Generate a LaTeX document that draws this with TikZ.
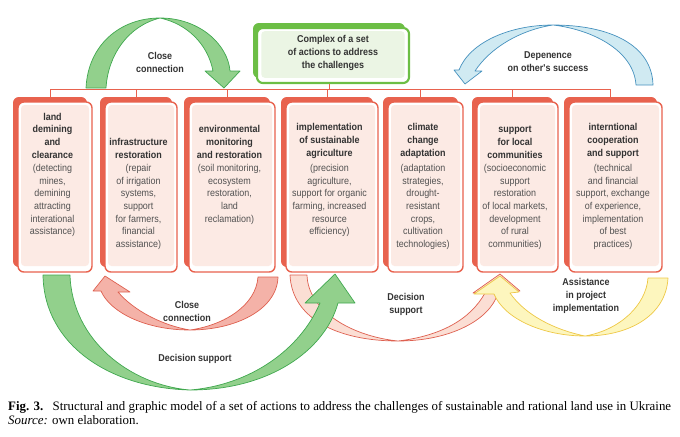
\documentclass[tikz,border=0pt]{standalone}
\usepackage{fontspec}
\setmainfont{Liberation Serif}
\newfontfamily\boxfont{Liberation Sans}[FakeStretch=0.9]
\definecolor{BoxClr}{rgb}{0.91,0.384,0.306}
\definecolor{PaleClr}{rgb}{0.988,0.918,0.894}
\definecolor{TopClr}{rgb}{0.424,0.745,0.27}
\definecolor{TopPale}{rgb}{0.92,0.96,0.894}
\definecolor{GreenFill}{rgb}{0.573,0.816,0.549}
\definecolor{GreenLine}{rgb}{0.25,0.66,0.31}
\definecolor{BlueFill}{rgb}{0.816,0.918,0.949}
\definecolor{BlueLine}{rgb}{0.275,0.569,0.745}
\definecolor{RedFill}{rgb}{0.957,0.698,0.659}
\definecolor{RedLine}{rgb}{0.87,0.376,0.314}
\definecolor{PinkFill}{rgb}{0.984,0.871,0.831}
\definecolor{YellowFill}{rgb}{0.992,0.965,0.745}
\definecolor{YellowLine}{rgb}{0.933,0.784,0.275}
\definecolor{TxtClr}{rgb}{0.2,0.2,0.2}
\tikzset{
  shadowbox/.style={rectangle,rounded corners=5pt,fill=#1,inner sep=0pt},
  frontbox/.style={rectangle,rounded corners=5pt,draw=#1,line width=1.2pt,fill=white,inner sep=0pt},
  innerbox/.style={rectangle,rounded corners=3pt,fill=#1,inner sep=0pt},
  ttl/.style={font=\boxfont\bfseries\fontsize{8.5}{11}\selectfont,align=center,inner sep=0pt,text=TxtClr},
  body/.style={font=\boxfont\fontsize{8.5}{10.8}\selectfont,align=center,inner sep=0pt,text=TxtClr!85},
  lbl/.style={font=\boxfont\bfseries\fontsize{8.5}{11}\selectfont,align=center,inner sep=0pt,text=TxtClr},
  blockarrow/.style n args={2}{fill=#1,draw=#2,line width=0.6pt,line join=round},
  bus/.style={draw=BoxClr,line width=0.7pt}
}

\begin{document}
\begin{tikzpicture}[x=0.03cm,y=-0.03cm]
\useasboundingbox (0,0) rectangle (680,436);

\coordinate (bus) at (0,89);

\node[shadowbox=TopClr,minimum width=4.56cm,minimum height=1.65cm] (topsh) at (329,50.5) {};
\node[frontbox=TopClr,line width=1.8pt,minimum width=4.56cm,minimum height=1.65cm] (topbox) at (333,55.5) {};
\node[innerbox=TopPale,minimum width=4.3cm,minimum height=1.4cm] (topin) at (333,54.5) {};
\node[ttl] (toptxt) at (333,53) {Complex of a set\\of actions to address\\the challenges};
\draw[bus] (topsh.south |- topbox.south) -- (topsh.south |- bus);

\foreach \n/\xa/\xb/\ttl/\bdy in {
  1/13/92/{land\\demining\\and\\clearance}/{(detecting\\mines,\\demining\\attracting\\interational\\assistance)},
  2/100/177/{infrastructure\\restoration}/{(repair\\of irrigation\\systems,\\support\\for farmers,\\financial\\assistance)},
  3/184/275/{environmental\\monitoring\\and restoration}/{(soil monitoring,\\ecosystem\\restoration,\\land\\reclamation)},
  4/281/378/{implementation\\of sustainable\\agriculture}/{(precision\\agriculture,\\support for organic\\farming, increased\\resource\\efficiency)},
  5/383/463/{climate\\change\\adaptation}/{(adaptation\\strategies,\\drought-\\resistant\\crops,\\cultivation\\technologies)},
  6/472/558/{support\\for local\\communities}/{(socioeconomic\\support\\restoration\\of local markets,\\development\\of rural\\communities)},
  7/564/662/{interntional\\cooperation\\and support}/{(technical\\and financial\\support, exchange\\of experience,\\implementation\\of best\\practices)}}{
  \node[shadowbox=BoxClr,minimum width={(\xb-\xa-5)*0.03cm},minimum height=5.1cm] (sh\n) at ({(\xa+\xb-5)/2},182) {};
  \node[frontbox=BoxClr,minimum width={(\xb-\xa-5)*0.03cm},minimum height=5.1cm] (box\n) at ({(\xa+\xb+5)/2},187) {};
  \node[innerbox=PaleClr,minimum width={(\xb-\xa-11)*0.03cm},minimum height=4.83cm] (in\n) at ({(\xa+\xb+5)/2},185.5) {};
  \node[ttl,anchor=south] (ttl\n) at ({(\xa+\xb)/2},159) {\ttl};
  \node[body,anchor=north] (txt\n) at ({(\xa+\xb)/2},164) {\bdy};
  \draw[bus] (sh\n.north) -- (sh\n.north |- bus);
}
\draw[bus] (sh1.north |- bus) -- (sh7.north |- bus);

\draw[blockarrow={GreenFill}{GreenLine}] (86,88) .. controls (88,45) and (120,18) .. (160,18)
  .. controls (200,18) and (228,45) .. (230,71) -- (240,71) -- (224,88) -- (205,71) -- (213,71)
  .. controls (208,45) and (188,24) .. (160,18) .. controls (128,26) and (108,55) .. (106,88) -- cycle;
\draw[blockarrow={BlueFill}{BlueLine}] (653,85) .. controls (652,45) and (610,25) .. (553,25)
  .. controls (510,25) and (470,42) .. (459,70) -- (454,70) -- (465,84) -- (482,71) -- (475,71)
  .. controls (490,48) and (520,30) .. (553,25) .. controls (595,30) and (634,52) .. (636,85) -- cycle;

\draw[blockarrow={RedFill}{RedLine}] (278,277) .. controls (277,310) and (235,330) .. (190,330)
  .. controls (145,330) and (110,312) .. (101,291) -- (93,291) -- (105,276) -- (130,292) -- (118,292)
  .. controls (135,312) and (165,326) .. (190,330) .. controls (225,325) and (256,305) .. (258,277) -- cycle;
\draw[blockarrow={PinkFill}{RedLine}] (290,275) .. controls (292,320) and (340,341) .. (398,341)
  .. controls (450,341) and (490,320) .. (498,293) -- (520,291) -- (500,274) -- (473,293) -- (485,293)
  .. controls (470,320) and (440,336) .. (398,341) .. controls (350,336) and (308,310) .. (307,275) -- cycle;
\draw[blockarrow={GreenFill}{GreenLine}] (43,275) .. controls (44,345) and (110,388) .. (190,390)
  .. controls (270,390) and (325,350) .. (338,303) -- (355,303) -- (335,274) -- (305,303) -- (320,303)
  .. controls (300,350) and (250,385) .. (190,390) .. controls (130,385) and (72,340) .. (70,275) -- cycle;
\draw[blockarrow={YellowFill}{YellowLine}] (668,278) .. controls (666,315) and (630,336) .. (585,336)
  .. controls (545,336) and (505,320) .. (494,294) -- (474,294) -- (500,276) -- (519,292) -- (510,293)
  .. controls (525,315) and (555,330) .. (585,336) .. controls (620,330) and (646,305) .. (648,278) -- cycle;

\node[lbl] (lblA) at (160,62) {Close\\connection};
\node[lbl] (lblB) at (548,62) {Depenence\\on other's success};
\node[lbl] (lblC) at (187,311) {Close\\connection};
\node[lbl] (lblD) at (195,359) {Decision support};
\node[lbl] (lblE) at (406,304) {Decision\\support};
\node[lbl] (lblF) at (586,296) {Assistance\\in project\\implementation};

\node[anchor=base west,inner sep=0pt,font=\fontsize{11}{13}\selectfont] (cap1) at (8,410)
  {\textbf{Fig. 3.}\hspace{8pt}Structural and graphic model of a set of actions to address the challenges of sustainable and rational land use in Ukraine};
\node[anchor=base west,inner sep=0pt,font=\fontsize{11}{13}\selectfont] (cap2) at (8,424)
  {\textit{Source:} own elaboration.};
\end{tikzpicture}
\end{document}
